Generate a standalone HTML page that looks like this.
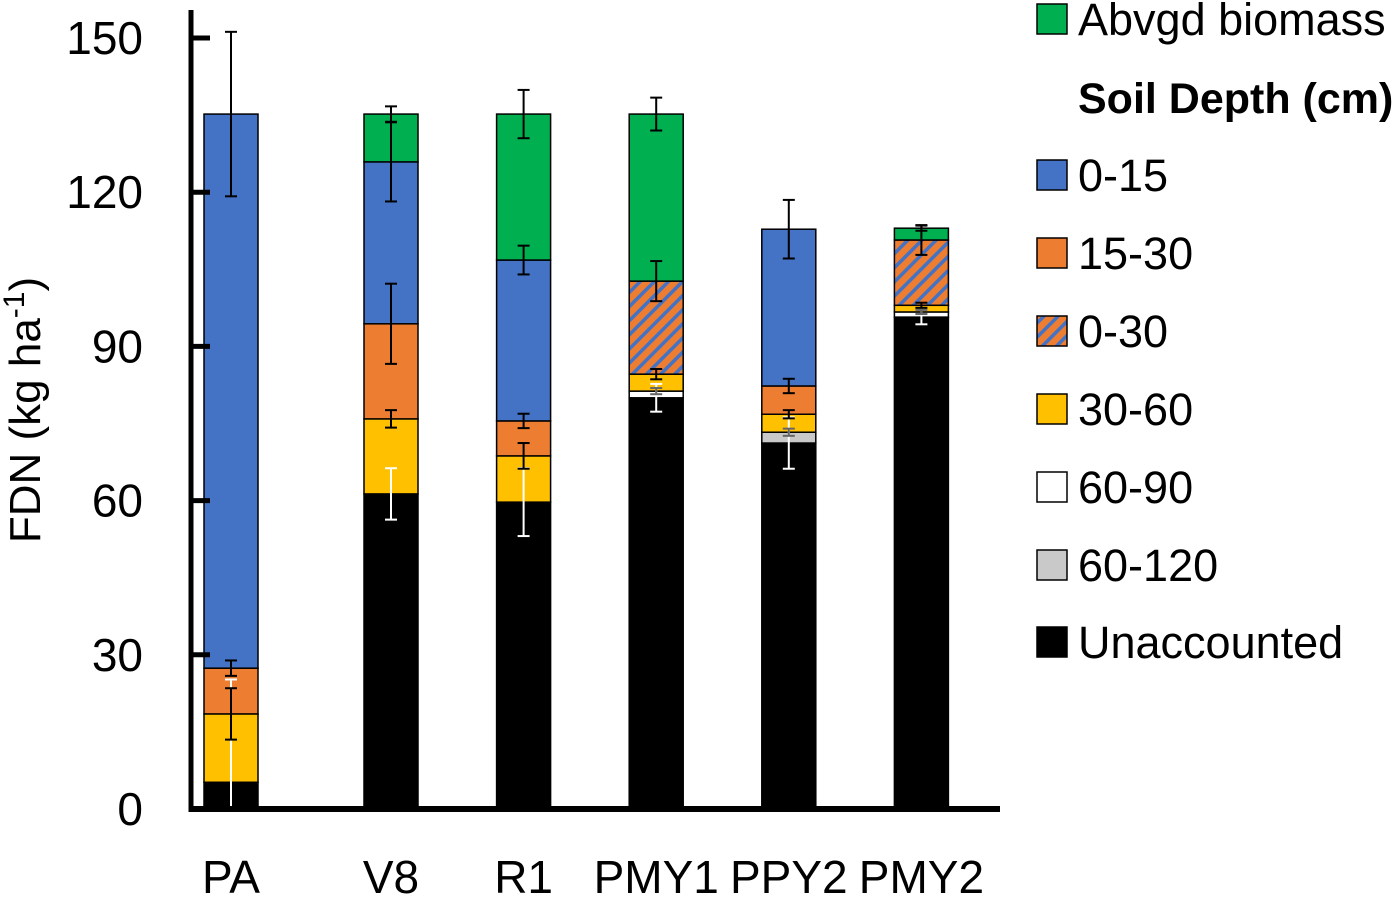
<!DOCTYPE html>
<html><head><meta charset="utf-8"><style>
body{margin:0;background:#fff;}
svg text{font-family:"Liberation Sans",sans-serif;}
</style></head><body>
<svg id="chart" width="1400" height="896" viewBox="0 0 1400 896" xmlns="http://www.w3.org/2000/svg">
<defs>
<pattern id="hatch" patternUnits="userSpaceOnUse" width="10" height="10" patternTransform="rotate(45)">
<rect width="10" height="10" fill="#ED7D31"/>
<rect x="0" y="0" width="3.5" height="10" fill="#4472C4"/>
</pattern>
</defs>
<g id="bars"></g>
<g id="axes"></g>
<g id="legend"></g>
</svg>
<script>
const categories = ["PA","V8","R1","PMY1","PPY2","PMY2"];
const seriesNames = ["Unaccounted","60-120","60-90","30-60","15-30","0-30","0-15","Abvgd biomass"];
const unaccounted = [5.2, 61.3, 59.7, 80.0, 71.2, 95.7];
const unaccountedErr = [20, 5, 6.6, 2.7, 5, 1.4];
const d60_120 = [0, 0, 0, 0, 2.1, 0];
const d60_120Err = [0, 0, 0, 0, 0.7, 0];
const d60_90 = [0, 0, 0, 1.3, 0, 1.0];
const d60_90Err = [0, 0, 0, 0.6, 0, 0.4];
const d30_60 = [13.3, 14.6, 9.0, 3.3, 3.5, 1.3];
const d30_60Err = [5, 1.7, 2.5, 1, 0.8, 0.5];
const d15_30 = [8.9, 18.5, 6.8, 0, 5.5, 0];
const d15_30Err = [1.5, 7.8, 1.4, 0, 1.4, 0];
const d0_30 = [0, 0, 0, 18.1, 0, 12.7];
const d0_30Err = [0, 0, 0, 3.9, 0, 2.9];
const d0_15 = [107.8, 31.5, 31.3, 0, 30.5, 0];
const d0_15Err = [16, 7.7, 2.8, 0, 5.7, 0];
const biomass = [0, 9.3, 28.4, 32.5, 0, 2.3];
const biomassErr = [0, 1.5, 4.7, 3.2, 0, 0.5];
const yTicks = [0,30,60,90,120,150];

const NS="http://www.w3.org/2000/svg";
const y0=809, pxPer=5.14;
function yS(v){return y0-v*pxPer;}
function xC(i){return i===0?231:391+(i-1)*132.6;}
const barW=54;
function mk(tag,attrs,parent){const e=document.createElementNS(NS,tag);for(const k in attrs)e.setAttribute(k,attrs[k]);parent.appendChild(e);return e;}
const bars=document.getElementById('bars');
const axes=document.getElementById('axes');
const legend=document.getElementById('legend');
const segs=[
 {name:"unaccounted",v:unaccounted,e:unaccountedErr,fill:"#000000",ec:"#ffffff"},
 {name:"60-120",v:d60_120,e:d60_120Err,fill:"#C9C9C9",ec:"#666666"},
 {name:"60-90",v:d60_90,e:d60_90Err,fill:"#ffffff",ec:"#666666"},
 {name:"30-60",v:d30_60,e:d30_60Err,fill:"#FFC000",ec:"#000"},
 {name:"15-30",v:d15_30,e:d15_30Err,fill:"#ED7D31",ec:"#000"},
 {name:"0-30",v:d0_30,e:d0_30Err,fill:"url(#hatch)",ec:"#000"},
 {name:"0-15",v:d0_15,e:d0_15Err,fill:"#4472C4",ec:"#000"},
 {name:"abvgd-biomass",v:biomass,e:biomassErr,fill:"#00B050",ec:"#000"}
];
const errs=[];
categories.forEach((c,i)=>{
  let cum=0;
  segs.forEach(s=>{
    const v=s.v[i]; if(v<=0) return;
    const top=cum+v;
    const r=mk('rect',{x:xC(i)-barW/2,y:yS(top),width:barW,height:yS(cum)-yS(top),fill:s.fill,stroke:"#000","stroke-width":1.5},bars);
    
    
    errs.push({x:xC(i),top:top,e:s.e[i],c:s.ec,n:c.toLowerCase()+'-'+s.name});
    cum=top;
  });
});
errs.forEach(er=>{
  if(er.e<=0) return;
  const g=mk('g',{stroke:er.c,"stroke-width":2},bars);
  
  
  const lo=Math.min(yS(er.top-er.e),806);
  mk('line',{x1:er.x,x2:er.x,y1:yS(er.top+er.e),y2:lo},g);
  mk('line',{x1:er.x-6,x2:er.x+6,y1:yS(er.top+er.e),y2:yS(er.top+er.e)},g);
  if(yS(er.top-er.e)<806) mk('line',{x1:er.x-6,x2:er.x+6,y1:yS(er.top-er.e),y2:yS(er.top-er.e)},g);
});
const ya=mk('line',{x1:191,x2:191,y1:10,y2:812,stroke:"#000","stroke-width":5},axes);

const xa=mk('line',{x1:189,x2:1000,y1:809,y2:809,stroke:"#000","stroke-width":6},axes);

yTicks.forEach(t=>{
  const l=mk('line',{x1:191,x2:210,y1:yS(t),y2:yS(t),stroke:"#000","stroke-width":5},axes);
  
  const tx=mk('text',{x:143,y:yS(t)+16,"text-anchor":"end","font-size":46,fill:"#000"},axes);
  tx.textContent=t;
  
});
categories.forEach((c,i)=>{
  const tx=mk('text',{x:xC(i),y:893,"text-anchor":"middle","font-size":46,fill:"#000"},axes);
  tx.textContent=c;
  
});
const yt=mk('text',{transform:"translate(40,410) rotate(-90)","text-anchor":"middle","font-size":44,fill:"#000"},axes);

yt.innerHTML='FDN (kg ha<tspan dy="-16" font-size="30">-1</tspan><tspan dy="16">)</tspan>';
const leg=[["Abvgd biomass","#00B050",19],["Soil Depth (cm)",null,97],["0-15","#4472C4",175],["15-30","#ED7D31",253],["0-30","url(#hatch)",331],["30-60","#FFC000",409],["60-90","#ffffff",487],["60-120","#C9C9C9",565],["Unaccounted","#000000",642]];
leg.forEach(l=>{
  const g=mk('g',{},legend);
  
  
  if(l[1]) mk('rect',{x:1037,y:l[2]-15,width:30,height:30,fill:l[1],stroke:"#000","stroke-width":1.5},g);
  const t=mk('text',{x:1078,y:l[2]+16,"font-size":l[1]?45:43,fill:"#000"},g);
  if(!l[1]) t.setAttribute('font-weight','bold');
  t.textContent=l[0];
});
</script>
</body></html>
